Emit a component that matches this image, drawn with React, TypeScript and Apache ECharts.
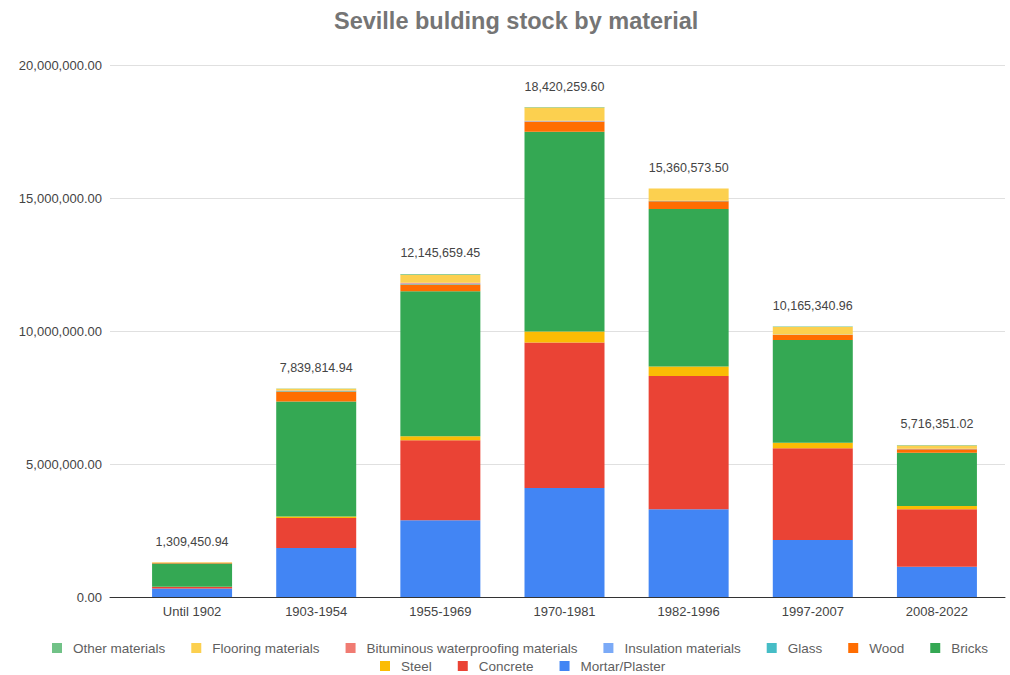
import React, { useEffect, useRef } from "react";
import * as echarts from "echarts";

const categories = ["Until 1902", "1903-1954", "1955-1969", "1970-1981", "1982-1996", "1997-2007", "2008-2022"];
const totals = [1309450.94, 7839814.94, 12145659.45, 18420259.6, 15360573.5, 10165340.96, 5716351.02];

const mortarPlaster = [320000, 1840000, 2890000, 4100000, 3300000, 2140000, 1140000];
const concrete = [60000, 1130000, 3000000, 5470000, 5010000, 3450000, 2160000];
const steel = [10000, 60000, 150000, 410000, 360000, 210000, 120000];
const bricks = [868000, 4320000, 5450000, 7510000, 5920000, 3860000, 2000000];
const wood = [30000, 380000, 260000, 380000, 290000, 190000, 130000];
const glass = [2000, 10000, 20000, 10000, 5000, 5000, 5000];
const insulation = [1000, 10000, 20000, 10000, 5000, 5000, 10000];
const bituminous = [1000, 10000, 20000, 10000, 5000, 5000, 10000];
const flooring = [15000, 70000, 300000, 500000, 460000, 290000, 120000];
const otherMaterials = [2450, 9815, 35659, 20260, 5574, 10341, 21351];

const yTicks = { min: 0, max: 20000000, interval: 5000000 };

const seriesDefs = [
  { name: "Mortar/Plaster", data: mortarPlaster, color: "#4285F4" },
  { name: "Concrete", data: concrete, color: "#EA4335" },
  { name: "Steel", data: steel, color: "#FBBC04" },
  { name: "Bricks", data: bricks, color: "#34A853" },
  { name: "Wood", data: wood, color: "#FF6D01" },
  { name: "Glass", data: glass, color: "#46BDC6" },
  { name: "Insulation materials", data: insulation, color: "#7BAAF7" },
  { name: "Bituminous waterproofing materials", data: bituminous, color: "#F07B72" },
  { name: "Flooring materials", data: flooring, color: "#FCD04F" },
  { name: "Other materials", data: otherMaterials, color: "#71C287" },
];

const legendRow1 = ["Other materials", "Flooring materials", "Bituminous waterproofing materials", "Insulation materials", "Glass", "Wood", "Bricks"];
const legendRow2 = ["Steel", "Concrete", "Mortar/Plaster"];

const fmt = (v: number) =>
  v.toLocaleString("en-US", { minimumFractionDigits: 2, maximumFractionDigits: 2 });

const FONT = "'Liberation Sans', Arial, sans-serif";

export default function App() {
  const ref = useRef<HTMLDivElement>(null);
  useEffect(() => {
    if (!ref.current) return;
    const chart = echarts.init(ref.current, null, { renderer: "svg" });
    const legendCommon = {
      itemWidth: 10,
      itemHeight: 10,
      itemGap: 26,
      padding: 0,
      icon: "rect",
      textStyle: { color: "#5f5f5f", fontSize: 13.5, fontFamily: FONT, padding: [0, 0, 0, 6] },
      selectedMode: false,
    };
    chart.setOption({
      animation: false,
      backgroundColor: "#fff",
      title: {
        text: "Seville bulding stock by material",
        left: 334,
        top: 9,
        padding: 0,
        textStyle: { color: "#757575", fontSize: 23.5, fontWeight: "bold", fontFamily: FONT },
      },
      legend: [
        { ...legendCommon, data: legendRow1, left: 52, top: 641 },
        { ...legendCommon, data: legendRow2, left: 380, top: 659 },
      ],
      grid: [
        { left: 110, right: 5, top: 65, bottom: 78 },
        { left: 130, right: 11, top: 65, bottom: 78 },
      ],
      xAxis: [
        {
          gridIndex: 0,
          type: "value",
          min: 0,
          max: 1,
          axisLine: { show: true, onZero: false, lineStyle: { color: "#333", width: 1 } },
          axisTick: { show: false },
          axisLabel: { show: false },
          splitLine: { show: false },
        },
        {
          gridIndex: 1,
          type: "category",
          data: categories,
          axisLine: { show: false },
          axisTick: { show: false },
          axisLabel: { color: "#444", fontSize: 13, fontFamily: FONT, margin: 8 },
        },
      ],
      yAxis: [
        {
          gridIndex: 0,
          type: "value",
          ...yTicks,
          axisLine: { show: false },
          axisTick: { show: false },
          axisLabel: { color: "#444", fontSize: 13, fontFamily: FONT, margin: 8, formatter: (v: number) => fmt(v) },
          splitLine: { lineStyle: { color: "#e0e0e0" } },
        },
        { gridIndex: 1, type: "value", ...yTicks, show: false, splitLine: { show: false } },
      ],
      series: seriesDefs.map((s, i) => ({
        name: s.name,
        type: "bar",
        stack: "total",
        xAxisIndex: 1,
        yAxisIndex: 1,
        barWidth: 80,
        data: s.data,
        itemStyle: { color: s.color },
        label:
          i === seriesDefs.length - 1
            ? {
                show: true,
                position: "top",
                distance: 14,
                color: "#444",
                fontSize: 12.5,
                fontFamily: FONT,
                formatter: (p: any) => fmt(totals[p.dataIndex]),
              }
            : { show: false },
      })),
    });
    return () => chart.dispose();
  }, []);
  return <div ref={ref} style={{ position: "absolute", left: 0, top: 0, width: 1010, height: 675 }} />;
}
